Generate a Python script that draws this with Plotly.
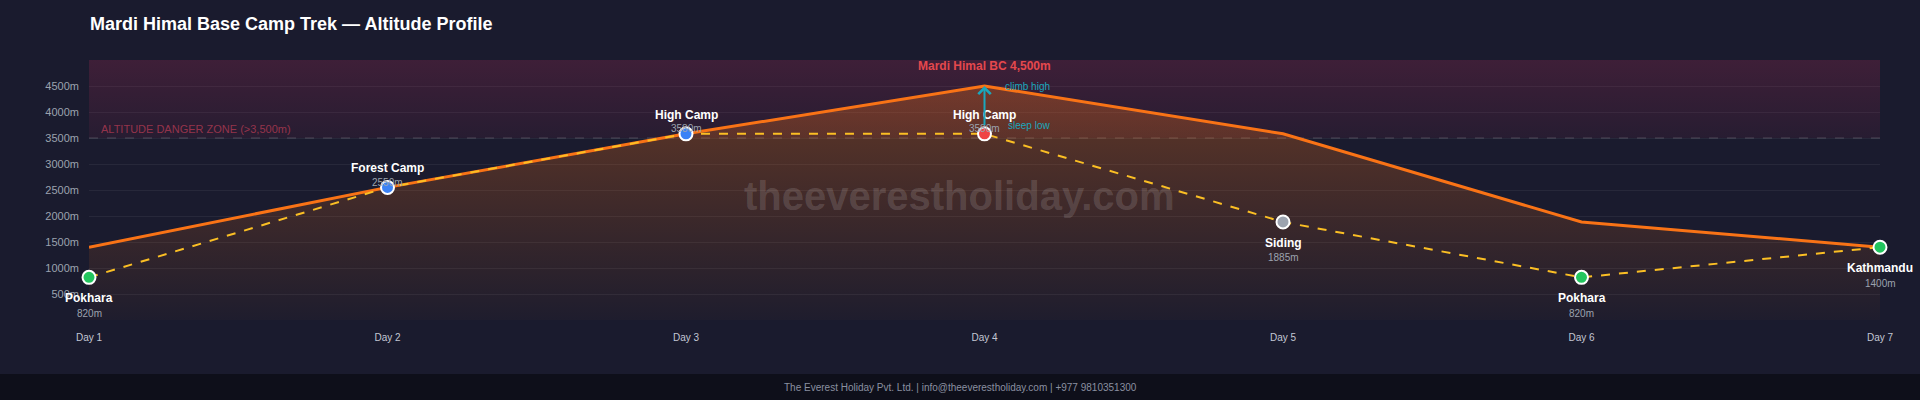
import plotly.graph_objects as go

# ---- data ----
DAYS = ["Day 1", "Day 2", "Day 3", "Day 4", "Day 5", "Day 6", "Day 7"]
DAY_NUM = [1, 2, 3, 4, 5, 6, 7]
CLIMB_ALT = [1400, 2550, 3580, 4500, 3580, 1885, 1400]   # max altitude reached per day
SLEEP_ALT = [820, 2550, 3580, 3580, 1885, 820, 1400]     # overnight altitude
STOP_NAMES = ["Pokhara", "Forest Camp", "High Camp", "High Camp", "Siding", "Pokhara", "Kathmandu"]
Y_TICKS = [500, 1000, 1500, 2000, 2500, 3000, 3500, 4000, 4500]
DANGER_ALT = 3500
Y_MAX = 5000
PEAK_DAY = 4
PEAK_ALT = 4500

# ---- styling ----
FONT = "Liberation Sans, Arial, sans-serif"
BG = "#1a1b2e"
FOOTER_BG = "#0e0f1a"
ORANGE = "#f97316"
AMBER = "#fbbf24"
TEAL = "#1aa7bd"
MARKER_COLORS = ["#22c55e", "#3b82f6", "#3b82f6", "#ef4444", "#9ca3af", "#22c55e", "#22c55e"]
LABEL_ABOVE = [False, True, True, True, False, False, False]

W, H = 1920, 400
M_L, M_R, M_T, M_B = 89, 40, 60, 80
PLOT_W = W - M_L - M_R
PLOT_H = H - M_T - M_B


def px_to_paper_y(py):
    return (H - M_B - py) / PLOT_H


def px_to_paper_x(px):
    return (px - M_L) / PLOT_W


fig = go.Figure()

# danger zone band
fig.add_trace(go.Scatter(
    x=[DAY_NUM[0], DAY_NUM[-1], DAY_NUM[-1], DAY_NUM[0]],
    y=[DANGER_ALT, DANGER_ALT, Y_MAX, Y_MAX],
    fill="toself", mode="none", hoverinfo="skip",
    fillgradient=dict(type="vertical", start=DANGER_ALT, stop=Y_MAX,
                      colorscale=[[0, "rgba(190,45,90,0.08)"], [1, "rgba(190,45,90,0.22)"]]),
))

# climb-high line with area
fig.add_trace(go.Scatter(
    x=DAY_NUM, y=CLIMB_ALT, mode="lines", fill="tozeroy",
    line=dict(color=ORANGE, width=3), hoverinfo="skip", cliponaxis=False,
    fillgradient=dict(type="vertical", start=0, stop=PEAK_ALT,
                      colorscale=[[0, "rgba(249,115,22,0.02)"], [1, "rgba(249,115,22,0.32)"]]),
))

# sleep-low dashed line
fig.add_trace(go.Scatter(
    x=DAY_NUM, y=SLEEP_ALT, mode="lines",
    line=dict(color=AMBER, width=2, dash="dash"), hoverinfo="skip", cliponaxis=False,
))

# stop markers
fig.add_trace(go.Scatter(
    x=DAY_NUM, y=SLEEP_ALT, mode="markers", cliponaxis=False,
    marker=dict(size=13, color=MARKER_COLORS, line=dict(color="white", width=2)),
    hovertext=STOP_NAMES, hoverinfo="text",
))

annotations = []
for d, alt, name, above in zip(DAY_NUM, SLEEP_ALT, STOP_NAMES, LABEL_ABOVE):
    name_shift, val_shift = (19, 5) if above else (-21, -36)
    annotations.append(dict(x=d, y=alt, text=f"<b>{name}</b>", showarrow=False, yshift=name_shift,
                            font=dict(family=FONT, size=12, color="white")))
    annotations.append(dict(x=d, y=alt, text=f"{alt}m", showarrow=False, yshift=val_shift,
                            font=dict(family=FONT, size=10, color="#9ca3af")))

# climb high / sleep low arrow
annotations += [
    dict(x=PEAK_DAY, y=PEAK_ALT, ax=PEAK_DAY, ay=SLEEP_ALT[PEAK_DAY - 1], axref="x", ayref="y",
         showarrow=True, arrowhead=4, arrowsize=1.2, arrowwidth=2, arrowcolor=TEAL,
         startstandoff=7, text=""),
    dict(x=PEAK_DAY, y=PEAK_ALT, text="climb high", showarrow=False, xanchor="left", xshift=18,
         font=dict(family=FONT, size=10, color=TEAL)),
    dict(x=PEAK_DAY, y=SLEEP_ALT[PEAK_DAY - 1], text="sleep low", showarrow=False, xanchor="left",
         xshift=21, yshift=8, font=dict(family=FONT, size=10, color=TEAL)),
    dict(x=PEAK_DAY, y=PEAK_ALT, text=f"<b>Mardi Himal BC {PEAK_ALT:,}m</b>", showarrow=False,
         yshift=20, font=dict(family=FONT, size=12, color="#e5484d")),
    dict(x=DAY_NUM[0], y=DANGER_ALT, text=f"ALTITUDE DANGER ZONE (>{DANGER_ALT:,}m)", showarrow=False,
         xanchor="left", xshift=10, yshift=9, font=dict(family=FONT, size=11, color="rgba(210,65,90,0.65)")),
    # watermark
    dict(xref="paper", yref="paper", x=px_to_paper_x(959), y=px_to_paper_y(196),
         xanchor="center", yanchor="middle",
         text="<b>theeverestholiday.com</b>", showarrow=False,
         font=dict(family=FONT, size=40, color="rgba(255,255,255,0.14)")),
    # footer text
    dict(xref="paper", yref="paper", x=px_to_paper_x(W / 2), y=px_to_paper_y(387),
         xanchor="center", yanchor="middle",
         text="The Everest Holiday Pvt. Ltd. | info@theeverestholiday.com | +977 9810351300",
         showarrow=False, font=dict(family=FONT, size=10, color="#8a8fa0")),
]

shapes = [
    # danger threshold line
    dict(type="line", xref="paper", x0=0, x1=1, yref="y", y0=DANGER_ALT, y1=DANGER_ALT,
         line=dict(color="rgba(255,255,255,0.2)", width=1, dash="dash"), layer="below"),
    # footer bar
    dict(type="rect", xref="paper", yref="paper", layer="below",
         x0=px_to_paper_x(0), x1=px_to_paper_x(W), y0=px_to_paper_y(H), y1=px_to_paper_y(374),
         fillcolor=FOOTER_BG, line=dict(width=0)),
]

fig.update_layout(
    width=W, height=H,
    margin=dict(l=M_L, r=M_R, t=M_T, b=M_B),
    paper_bgcolor=BG, plot_bgcolor=BG,
    showlegend=False,
    font=dict(family=FONT, color="#9ca3af"),
    title=dict(text="<b>Mardi Himal Base Camp Trek — Altitude Profile</b>",
               x=90 / W, xref="container", xanchor="left",
               y=1 - 24 / H, yref="container", yanchor="middle",
               font=dict(family=FONT, size=18, color="white")),
    xaxis=dict(range=[DAY_NUM[0], DAY_NUM[-1]], tickvals=DAY_NUM, ticktext=DAYS,
               showgrid=False, zeroline=False, showline=False, ticklabelstandoff=10,
               tickfont=dict(size=10, color="#c3c7d3")),
    yaxis=dict(range=[0, Y_MAX], tickvals=Y_TICKS, ticktext=[f"{v}m" for v in Y_TICKS],
               gridcolor="rgba(255,255,255,0.06)", zeroline=False, showline=False,
               ticklabelstandoff=9, tickfont=dict(size=11, color="#9ca3af")),
    annotations=annotations,
    shapes=shapes,
)

fig.write_html("out.html", config={"displayModeBar": False},
               post_script="document.body.style.margin='0';"
                           "document.body.style.background='" + BG + "';")
